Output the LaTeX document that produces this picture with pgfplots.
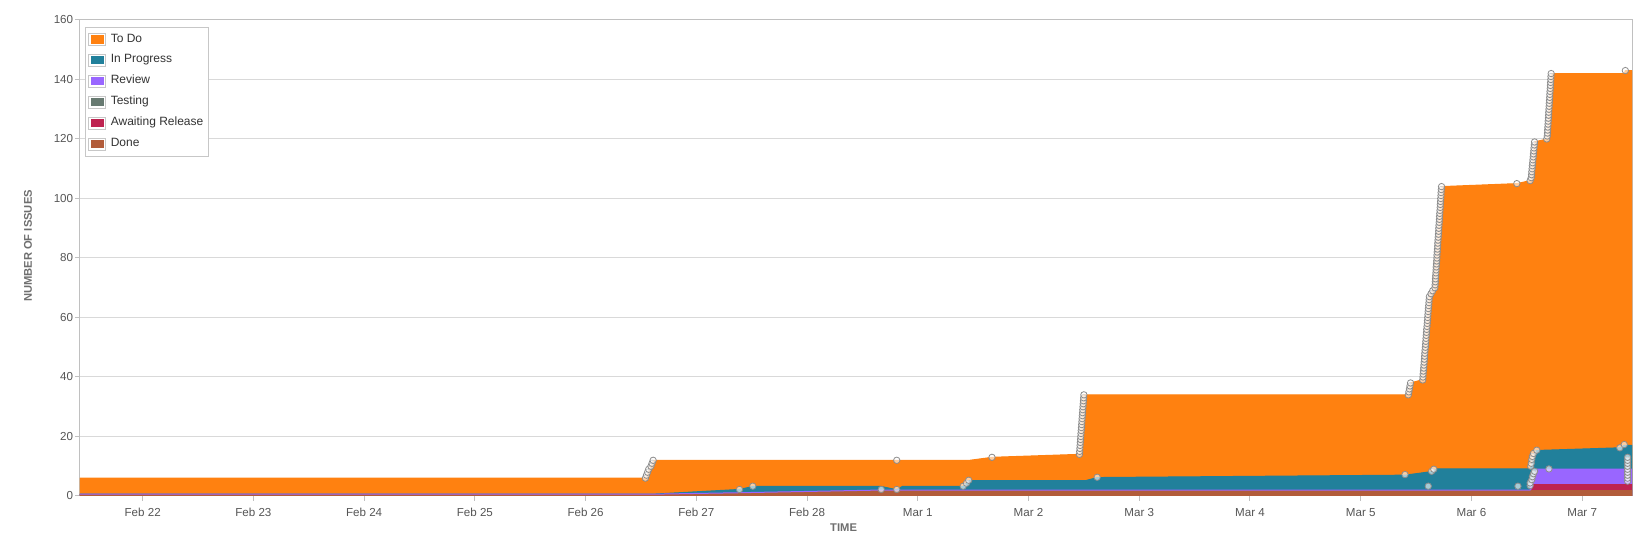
\documentclass[border=0pt]{standalone}
\usepackage{fontspec}
\setmainfont{Liberation Sans}
\usepackage{pgfplots}
\usepackage{pgfplotstable}
\pgfplotsset{compat=1.18}
\definecolor{todo}{HTML}{FF8110}
\definecolor{inprog}{HTML}{21809B}
\definecolor{review}{HTML}{9966FF}
\definecolor{testing}{HTML}{677A71}
\definecolor{await}{HTML}{BE2350}
\definecolor{done}{HTML}{B25C3A}
\definecolor{gridc}{HTML}{D9D9D9}
\definecolor{axc}{HTML}{C0C0C0}
\definecolor{tickc}{HTML}{555555}
\definecolor{titc}{HTML}{6E6E6E}

% cumulative tops of the stacked areas (x = days after Feb 22)
\pgfplotstableread{
x y
-0.566 6
4.54 6
4.61 12
7.47 12
7.67 13
8.46 14
8.49 34
11.42 34
11.45 38
11.55 39
11.62 68
11.65 69
11.73 104
12.41 105
12.53 106
12.57 119
12.68 120
12.72 142
13.38 142
13.39 143
13.45 143
}\todotop
\pgfplotstableread{
x y
-0.566 0.6
4.6 0.6
5.39 2.2
5.51 3.2
6.67 3.2
6.81 2.1
6.86 3.2
7.41 3.2
7.46 5.2
8.52 5.2
8.62 6.2
11.40 7
11.64 8.2
11.69 9.1
12.53 9.1
12.59 15.3
13.34 16.2
13.38 17
13.45 17
}\inprogtop
\pgfplotstableread{
x y
-0.566 0.6
4.6 0.6
5.39 1.1
6.67 2
12.53 2
12.54 4
12.59 9
13.45 9
}\reviewtop
\pgfplotstableread{
x y
-0.566 0.6
4.6 0.6
5.39 1.1
6.67 2
12.54 2
12.56 4
13.45 4
}\awaittop
\pgfplotstableread{
x y
-0.566 0.6
4.6 0.6
5.39 1.1
6.67 2
13.45 2
}\donetop
% event markers
\pgfplotstableread{
x y
4.54 6
4.55 7
4.56 8
4.57 9
4.59 10
4.60 11
4.61 12
6.81 12
7.67 13
8.460 14
8.462 15
8.464 16
8.466 17
8.468 18
8.470 19
8.472 20
8.474 21
8.476 22
8.478 23
8.480 24
8.482 25
8.484 26
8.486 27
8.488 28
8.490 29
8.492 30
8.494 31
8.496 32
8.498 33
8.500 34
11.430 34
11.435 35
11.440 36
11.445 37
11.450 38
11.560 39
11.562 40
11.564 41
11.566 42
11.569 43
11.571 44
11.573 45
11.575 46
11.577 47
11.579 48
11.581 49
11.584 50
11.586 51
11.588 52
11.590 53
11.592 54
11.594 55
11.596 56
11.599 57
11.601 58
11.603 59
11.605 60
11.607 61
11.609 62
11.611 63
11.614 64
11.616 65
11.618 66
11.620 67
11.635 68
11.650 69
11.670 70
11.672 71
11.674 72
11.675 73
11.677 74
11.679 75
11.681 76
11.682 77
11.684 78
11.686 79
11.688 80
11.689 81
11.691 82
11.693 83
11.695 84
11.696 85
11.698 86
11.700 87
11.702 88
11.704 89
11.705 90
11.707 91
11.709 92
11.711 93
11.712 94
11.714 95
11.716 96
11.718 97
11.719 98
11.721 99
11.723 100
11.725 101
11.726 102
11.728 103
11.730 104
12.41 105
12.53 106
12.540 107
12.543 108
12.545 109
12.548 110
12.550 111
12.553 112
12.555 113
12.558 114
12.560 115
12.563 116
12.565 117
12.568 118
12.570 119
12.680 120
12.685 121
12.687 122
12.688 123
12.690 124
12.692 125
12.693 126
12.695 127
12.697 128
12.698 129
12.700 130
12.702 131
12.703 132
12.705 133
12.707 134
12.708 135
12.710 136
12.712 137
12.713 138
12.715 139
12.717 140
12.718 141
12.720 142
13.39 143
5.39 2.2
5.51 3.3
6.67 2.2
6.81 2.2
7.41 3.3
7.44 4.3
7.46 5.3
8.62 6.3
11.40 7.2
11.61 3.3
11.64 8.3
11.66 9
12.42 3.3
12.53 3.5
12.53 4.4
12.535 10
12.54 11
12.545 12.3
12.55 13.3
12.56 14.3
12.59 15.4
12.545 5.5
12.55 6.5
12.56 7.5
12.57 8.3
12.70 9.1
13.34 16.2
13.38 17.3
13.41 5
13.41 6
13.41 7
13.41 8
13.41 9
13.41 10
13.41 11
13.41 12
13.41 13
}\events

\begin{document}
\begin{tikzpicture}
\begin{axis}[
  at={(0,0)}, anchor=south west,
  scale only axis, width=776pt, height=238pt,
  xmin=-0.566, xmax=13.45, ymin=0, ymax=160,
  xtick={0,1,...,13},
  xticklabels={Feb 22,Feb 23,Feb 24,Feb 25,Feb 26,Feb 27,Feb 28,Mar 1,Mar 2,Mar 3,Mar 4,Mar 5,Mar 6,Mar 7},
  ytick={0,20,...,160},
  axis line style={axc, line width=0.5pt},
  ymajorgrids, grid style={gridc, line width=0.5pt},
  tick align=outside, major tick length=2.5pt,
  tick style={axc, line width=0.5pt},
  xtick pos=bottom, ytick pos=left,
  ticklabel style={font=\fontsize{5.8}{7}\selectfont, text=tickc},
  yticklabel style={xshift=2.6pt},
  /pgf/number format/assume math mode=true,
  legend cell align=left,
  legend image code/.code={%
    \draw[draw=black!22, fill=white, line width=0.4pt] (0pt,-3pt) rectangle (8.5pt,3pt);
    \path[#1] (0.9pt,-2.1pt) rectangle (7.6pt,2.1pt);
    \path (10pt,0pt);},
  legend style={at={(axis description cs:0,1)}, anchor=north west,
    xshift=2.5pt, yshift=-3.4pt, draw=black!22, line width=0.4pt, fill=white,
    font=\fontsize{6}{7}\selectfont, text=black!80,
    inner xsep=1.5pt, inner ysep=2.3pt, row sep=2.7pt,
    nodes={inner sep=1pt}},
]
\addlegendimage{fill=todo, draw=none}
\addlegendentry{To Do}
\addlegendimage{fill=inprog, draw=none}
\addlegendentry{In Progress}
\addlegendimage{fill=review, draw=none}
\addlegendentry{Review}
\addlegendimage{fill=testing, draw=none}
\addlegendentry{Testing}
\addlegendimage{fill=await, draw=none}
\addlegendentry{Awaiting Release}
\addlegendimage{fill=done, draw=none}
\addlegendentry{Done}

\addplot[forget plot, fill=todo, draw=todo, line width=0.5pt] table[x=x,y=y] {\todotop} \closedcycle;
\addplot[forget plot, fill=inprog, draw=inprog, line width=0.5pt] table[x=x,y=y] {\inprogtop} \closedcycle;
\addplot[forget plot, fill=review, draw=none] table[x=x,y=y] {\reviewtop} \closedcycle;
\addplot[forget plot, fill=await, draw=none] table[x=x,y=y] {\awaittop} \closedcycle;
\addplot[forget plot, fill=done, draw=none] table[x=x,y=y] {\donetop} \closedcycle;
\addplot[forget plot, draw=review, line width=0.5pt] table[x=x,y=y] {\reviewtop};
\addplot[forget plot, only marks, mark=*, mark size=1.6pt,
  mark options={draw=black!45, fill=white, fill opacity=0.6, line width=0.4pt}]
  table[x=x,y=y] {\events};
\end{axis}
\node[rotate=90, inner sep=0, font=\bfseries\fontsize{5.6}{7}\selectfont, text=titc]
  at (-26pt,125pt) {NUMBER OF ISSUES};
\node[anchor=north, inner sep=0, font=\bfseries\fontsize{5.6}{7}\selectfont, text=titc]
  at (381.8pt,-13.8pt) {TIME};
\pgfresetboundingbox
\path[use as bounding box] (-40pt,-19pt) rectangle (783pt,248pt);
\end{tikzpicture}
\end{document}
